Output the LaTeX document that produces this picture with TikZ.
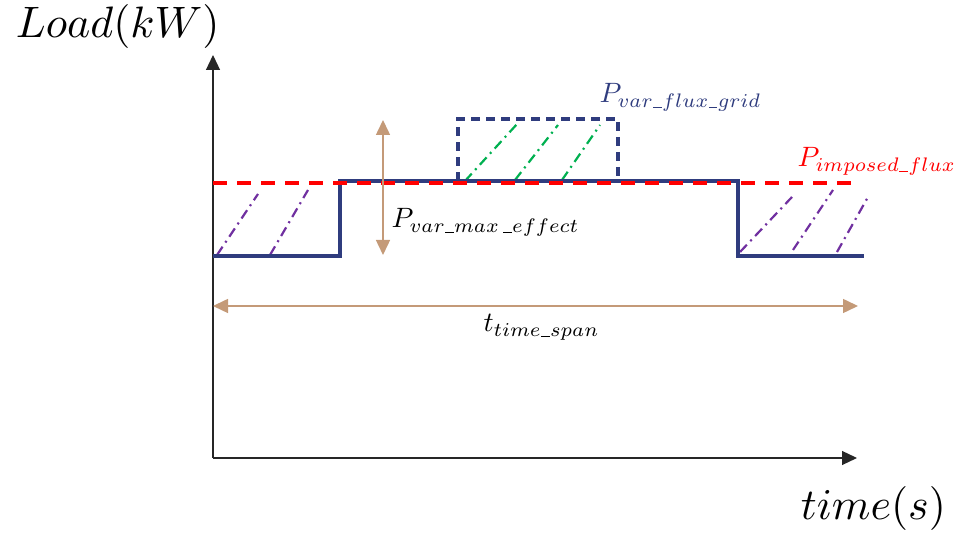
\documentclass[tikz,border=0pt]{standalone}
\usepackage{xcolor}
\usepackage{tikz}
\usetikzlibrary{arrows.meta,positioning,calc}

\definecolor{loadblue}{HTML}{2F3C7E}
\definecolor{spantan}{HTML}{C49A78}
\definecolor{hatchpurple}{HTML}{7030A0}
\definecolor{hatchgreen}{HTML}{00B050}

% short underscore for subscripts
\newcommand{\usc}{\kern0.2pt\rule[-0.3pt]{3pt}{0.4pt}\kern0.2pt}

\tikzset{
    axis/.style={-{Triangle[length=15pt,width=14pt]}, line width=1.2pt, black!85},
    span/.style={{Triangle[length=15pt,width=14pt]}-{Triangle[length=15pt,width=14pt]}, line width=1.5pt, spantan},
    loadline/.style={line width=3.4pt, loadblue},
    gridbox/.style={line width=3.2pt, loadblue, dash pattern=on 9pt off 6pt},
    imposed/.style={line width=3.8pt, red, dash pattern=on 14pt off 10pt},
    hatchlo/.style={line width=2.2pt, hatchpurple, dash pattern=on 10pt off 5pt on 2pt off 5pt},
    hatchhi/.style={line width=2.2pt, hatchgreen, dash pattern=on 10pt off 5pt on 2pt off 5pt},
    biglbl/.style={scale=4.4, inner sep=0pt, anchor=base west},
    lbl/.style={scale=2.8, inner sep=0pt, anchor=base west}
}

\begin{document}
\begin{tikzpicture}[x=1pt,y=1pt]
    \useasboundingbox (0,0) rectangle (969,537);

    % Axes
    \coordinate (O) at (213,79);
    \coordinate (ytop) at (213,482);
    \coordinate (xend) at (857,79);
    \draw[axis] (O) -- (ytop);
    \draw[axis] (O) -- (xend);
    \node[biglbl] (ylab) at (15,499) {$Load(kW)$};
    \node[biglbl] (xlab) at (800,17) {$time(s)$};

    % Hatching (drawn first)
    \foreach \a/\b/\c/\d in {217/282/258/343, 270/282/308/347, 740/285/792/340, 793/287/833/347, 837/285/868/340}
        \draw[hatchlo] (\a,\b) -- (\c,\d);
    \foreach \a/\b/\c/\d in {465/356/518/414, 515/357/558/412, 562/357/600/412}
        \draw[hatchhi] (\a,\b) -- (\c,\d);

    % Load profile
    \coordinate (l0) at (213,281);
    \coordinate (l1) at (340,281);
    \coordinate (l2) at (340,356);
    \coordinate (l3) at (738,356);
    \coordinate (l4) at (738,281);
    \coordinate (l5) at (864,281);
    \draw[loadline] (l0) -- (l1) -- (l2) -- (l3) -- (l4) -- (l5);

    % Grid flux box
    \coordinate (g0) at (458,356);
    \coordinate (g1) at (458,418);
    \coordinate (g2) at (618,418);
    \coordinate (g3) at (618,356);
    \draw[gridbox] (g0) -- (g1) -- (g2) -- (g3);

    % Imposed flux
    \coordinate (i0) at (213,354);
    \coordinate (i1) at (852,354);
    \draw[imposed] (i0) -- (i1);

    % Spans
    \coordinate (vtop) at (383,417);
    \coordinate (vbot) at (383,282);
    \draw[span] (vbot) -- (vtop);
    \coordinate (hl) at (213,231);
    \coordinate (hr) at (858,231);
    \draw[span] (hl) -- (hr);

    % Annotations
    \node[lbl] (pmax) at (391,309) {$P_{var\usc max\,\usc effect}$};
    \node[lbl, loadblue] (pgrid) at (599,434) {$P_{var\usc flux\usc grid}$};
    \node[lbl, red] (pimp) at (797,370) {$P_{imposed\usc flux}$};
    \node[lbl] (tspan) at (483,205) {$t_{time\usc span}$};
\end{tikzpicture}
\end{document}
